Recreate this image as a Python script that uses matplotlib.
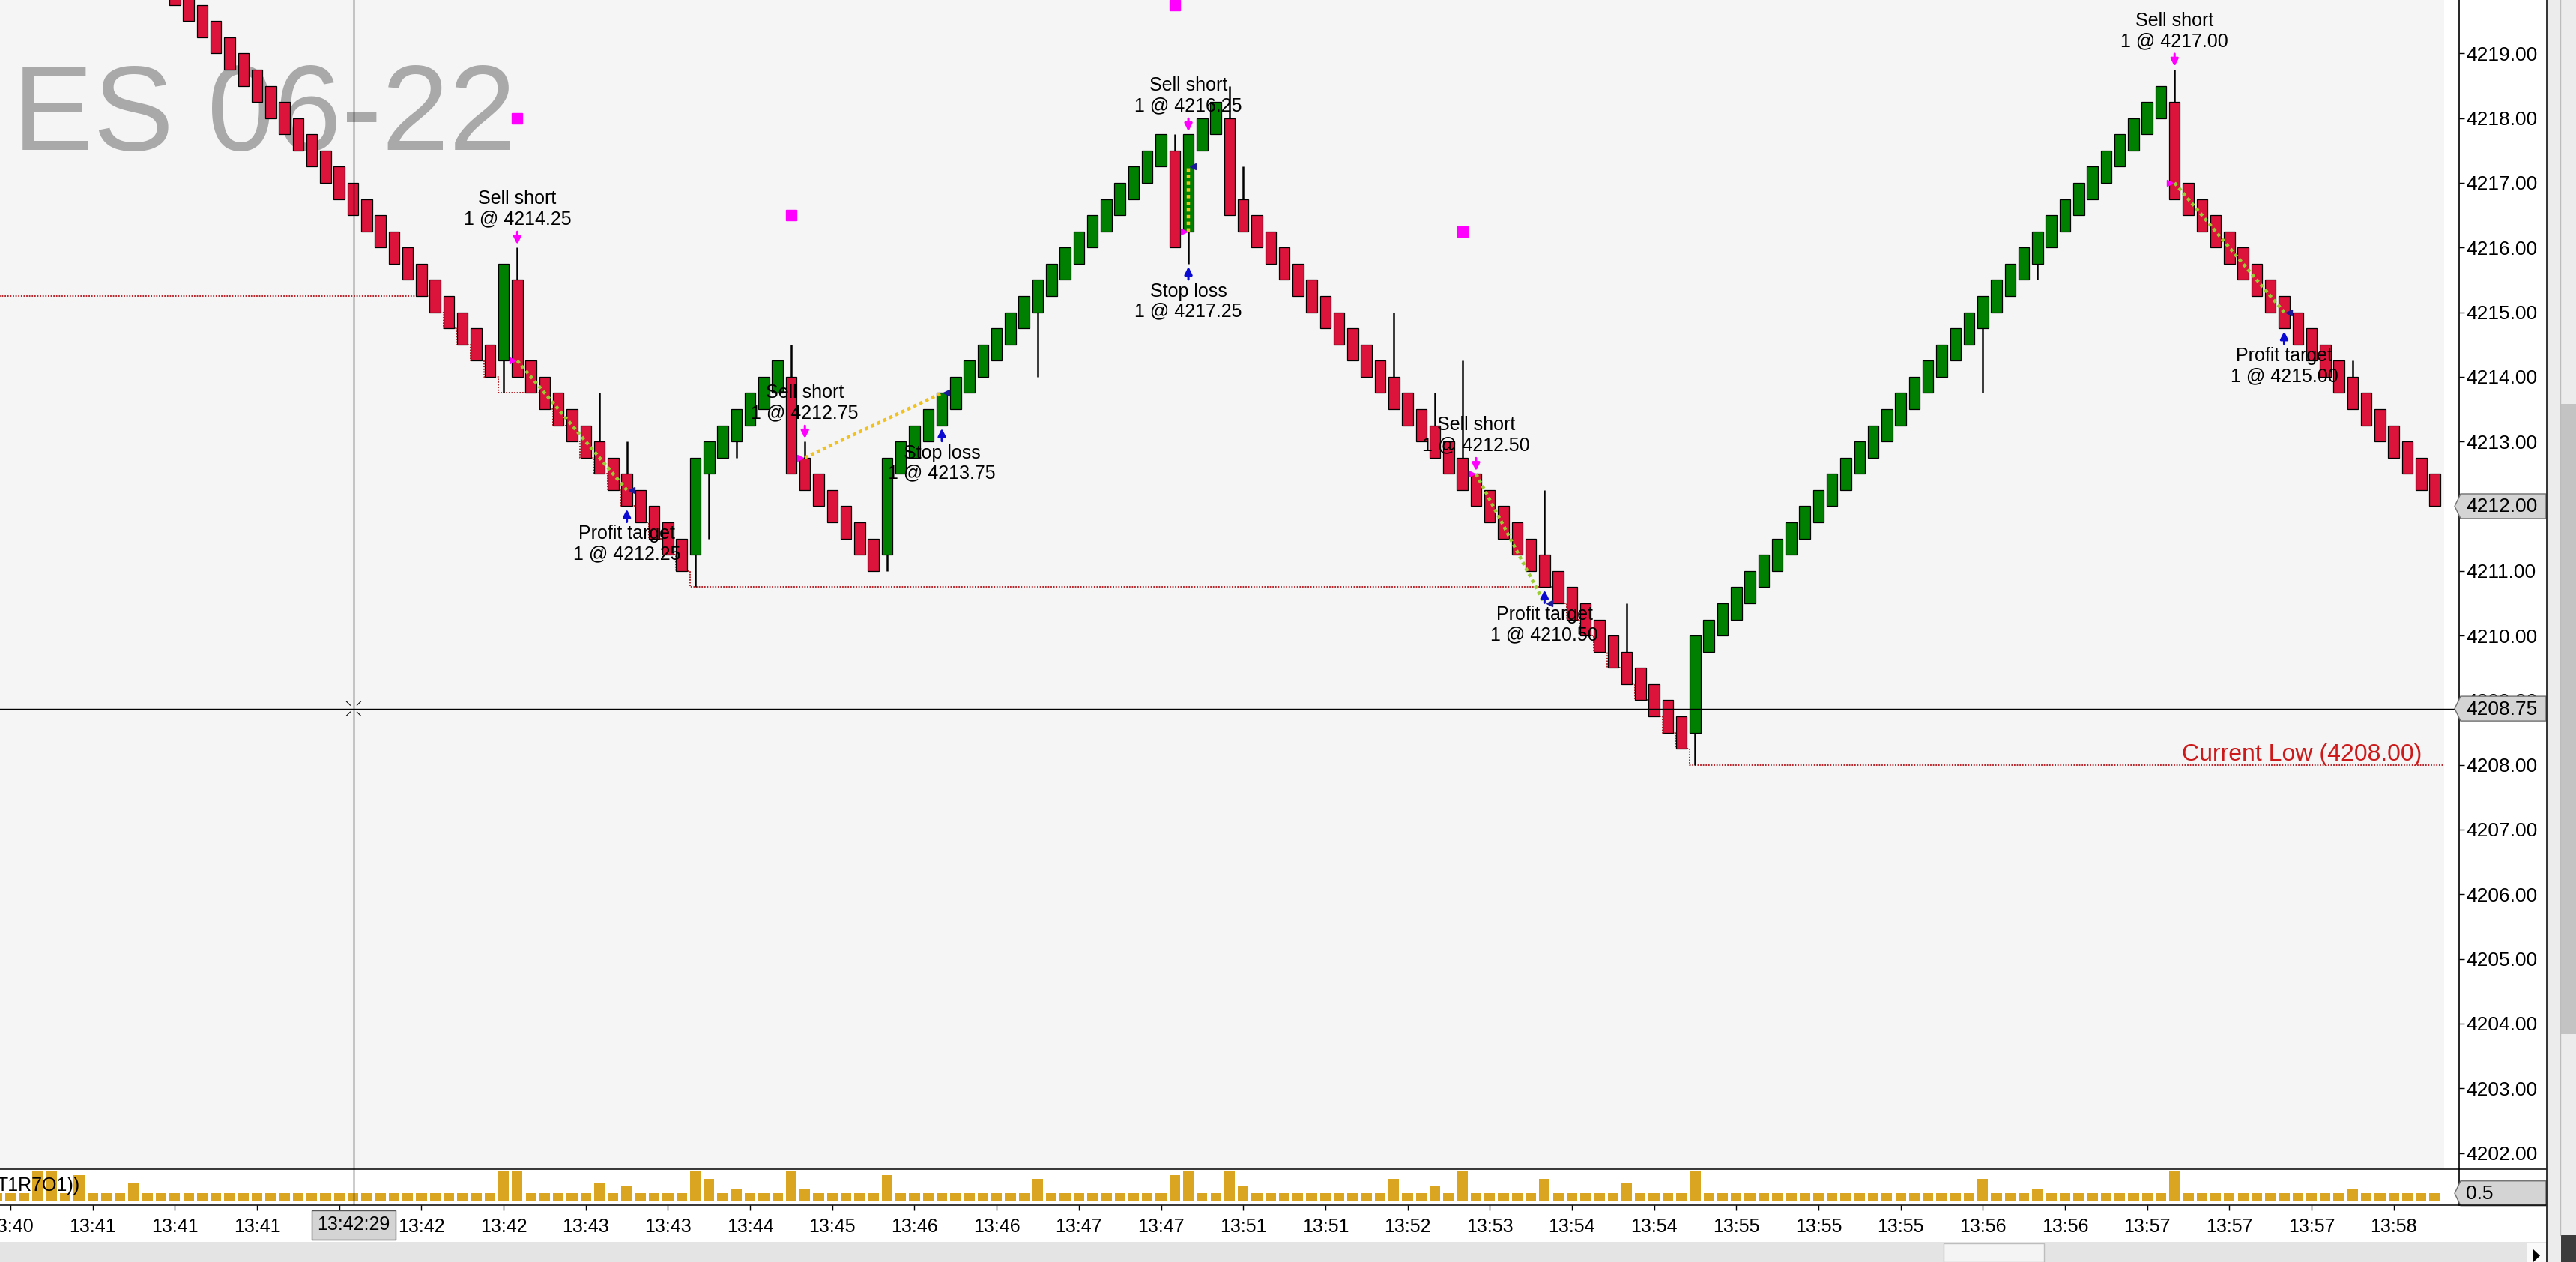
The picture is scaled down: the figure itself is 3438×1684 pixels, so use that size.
"""
ES 06-22 UniRenko (T1R7O1) chart with strategy trades, volume pane and
NinjaTrader-style chrome. Bars are indexed so that bar 0 sits under the
first time tick; bar -1 is the half-visible one at the left edge.
"""
import numpy as np
import matplotlib
matplotlib.use("Agg")
import matplotlib.pyplot as plt
from matplotlib.patches import Polygon, Rectangle

plt.rcParams["font.family"] = ["Liberation Sans", "DejaVu Sans"]

W, H, DPI = 3438, 1684, 100

bars = np.arange(-1, 178)

opens = [
    4223.50, 4223.25, 4223.00, 4222.75, 4222.50, 4222.25, 4222.00, 4221.75, 4221.50, 4221.25,
    4221.00, 4220.75, 4220.50, 4220.25, 4220.00, 4219.75, 4219.50, 4219.25, 4219.00, 4218.75,
    4218.50, 4218.25, 4218.00, 4217.75, 4217.50, 4217.25, 4217.00, 4216.75, 4216.50, 4216.25,
    4216.00, 4215.75, 4215.50, 4215.25, 4215.00, 4214.75, 4214.50, 4214.25, 4215.50, 4214.25,
    4214.00, 4213.75, 4213.50, 4213.25, 4213.00, 4212.75, 4212.50, 4212.25, 4212.00, 4211.75,
    4211.50, 4211.25, 4212.50, 4212.75, 4213.00, 4213.25, 4213.50, 4213.75, 4214.00, 4212.75,
    4212.50, 4212.25, 4212.00, 4211.75, 4211.50, 4211.25, 4212.50, 4212.75, 4213.00, 4213.25,
    4213.50, 4213.75, 4214.00, 4214.25, 4214.50, 4214.75, 4215.00, 4215.25, 4215.50, 4215.75,
    4216.00, 4216.25, 4216.50, 4216.75, 4217.00, 4217.25, 4217.50, 4216.25, 4217.50, 4217.75,
    4218.00, 4216.75, 4216.50, 4216.25, 4216.00, 4215.75, 4215.50, 4215.25, 4215.00, 4214.75,
    4214.50, 4214.25, 4214.00, 4213.75, 4213.50, 4213.25, 4213.00, 4212.75, 4212.50, 4212.25,
    4212.00, 4211.75, 4211.50, 4211.25, 4211.00, 4210.75, 4210.50, 4210.25, 4210.00, 4209.75,
    4209.50, 4209.25, 4209.00, 4208.75, 4208.50, 4209.75, 4210.00, 4210.25, 4210.50, 4210.75,
    4211.00, 4211.25, 4211.50, 4211.75, 4212.00, 4212.25, 4212.50, 4212.75, 4213.00, 4213.25,
    4213.50, 4213.75, 4214.00, 4214.25, 4214.50, 4214.75, 4215.00, 4215.25, 4215.50, 4215.75,
    4216.00, 4216.25, 4216.50, 4216.75, 4217.00, 4217.25, 4217.50, 4217.75, 4218.00, 4218.25,
    4217.00, 4216.75, 4216.50, 4216.25, 4216.00, 4215.75, 4215.50, 4215.25, 4215.00, 4214.75,
    4214.50, 4214.25, 4214.00, 4213.75, 4213.50, 4213.25, 4213.00, 4212.75, 4212.50,
]
closes = [
    4223.00, 4222.75, 4222.50, 4222.25, 4222.00, 4221.75, 4221.50, 4221.25, 4221.00, 4220.75,
    4220.50, 4220.25, 4220.00, 4219.75, 4219.50, 4219.25, 4219.00, 4218.75, 4218.50, 4218.25,
    4218.00, 4217.75, 4217.50, 4217.25, 4217.00, 4216.75, 4216.50, 4216.25, 4216.00, 4215.75,
    4215.50, 4215.25, 4215.00, 4214.75, 4214.50, 4214.25, 4214.00, 4215.75, 4214.00, 4213.75,
    4213.50, 4213.25, 4213.00, 4212.75, 4212.50, 4212.25, 4212.00, 4211.75, 4211.50, 4211.25,
    4211.00, 4212.75, 4213.00, 4213.25, 4213.50, 4213.75, 4214.00, 4214.25, 4212.50, 4212.25,
    4212.00, 4211.75, 4211.50, 4211.25, 4211.00, 4212.75, 4213.00, 4213.25, 4213.50, 4213.75,
    4214.00, 4214.25, 4214.50, 4214.75, 4215.00, 4215.25, 4215.50, 4215.75, 4216.00, 4216.25,
    4216.50, 4216.75, 4217.00, 4217.25, 4217.50, 4217.75, 4216.00, 4217.75, 4218.00, 4218.25,
    4216.50, 4216.25, 4216.00, 4215.75, 4215.50, 4215.25, 4215.00, 4214.75, 4214.50, 4214.25,
    4214.00, 4213.75, 4213.50, 4213.25, 4213.00, 4212.75, 4212.50, 4212.25, 4212.00, 4211.75,
    4211.50, 4211.25, 4211.00, 4210.75, 4210.50, 4210.25, 4210.00, 4209.75, 4209.50, 4209.25,
    4209.00, 4208.75, 4208.50, 4208.25, 4210.00, 4210.25, 4210.50, 4210.75, 4211.00, 4211.25,
    4211.50, 4211.75, 4212.00, 4212.25, 4212.50, 4212.75, 4213.00, 4213.25, 4213.50, 4213.75,
    4214.00, 4214.25, 4214.50, 4214.75, 4215.00, 4215.25, 4215.50, 4215.75, 4216.00, 4216.25,
    4216.50, 4216.75, 4217.00, 4217.25, 4217.50, 4217.75, 4218.00, 4218.25, 4218.50, 4216.75,
    4216.50, 4216.25, 4216.00, 4215.75, 4215.50, 4215.25, 4215.00, 4214.75, 4214.50, 4214.25,
    4214.00, 4213.75, 4213.50, 4213.25, 4213.00, 4212.75, 4212.50, 4212.25, 4212.00,
]

# wicks beyond the body
wick_hi_bars = [37, 43, 45, 57, 58, 85, 89, 90, 101, 104, 106, 112, 118, 158, 171]
wick_hi_vals = [4216.00, 4213.75, 4213.00, 4214.50, 4213.00, 4217.75, 4218.50, 4217.25,
                4215.00, 4213.75, 4214.25, 4212.25, 4210.50, 4218.75, 4214.25]
wick_lo_bars = [36, 50, 51, 53, 64, 75, 86, 123, 144, 148]
wick_lo_vals = [4213.75, 4210.75, 4211.50, 4212.75, 4211.00, 4214.00, 4215.75,
                4208.00, 4213.75, 4215.50]

volume = [
    0.5, 0.5, 0.5, 2.0, 2.0, 0.5, 1.75, 0.5, 0.5, 0.5,
    1.25, 0.5, 0.5, 0.5, 0.5, 0.5, 0.5, 0.5, 0.5, 0.5,
    0.5, 0.5, 0.5, 0.5, 0.5, 0.5, 0.5, 0.5, 0.5, 0.5,
    0.5, 0.5, 0.5, 0.5, 0.5, 0.5, 0.5, 2.0, 2.0, 0.5,
    0.5, 0.5, 0.5, 0.5, 1.25, 0.5, 1.0, 0.5, 0.5, 0.5,
    0.5, 2.0, 1.5, 0.5, 0.75, 0.5, 0.5, 0.5, 2.0, 0.75,
    0.5, 0.5, 0.5, 0.5, 0.5, 1.75, 0.5, 0.5, 0.5, 0.5,
    0.5, 0.5, 0.5, 0.5, 0.5, 0.5, 1.5, 0.5, 0.5, 0.5,
    0.5, 0.5, 0.5, 0.5, 0.5, 0.5, 1.75, 2.0, 0.5, 0.5,
    2.0, 1.0, 0.5, 0.5, 0.5, 0.5, 0.5, 0.5, 0.5, 0.5,
    0.5, 0.5, 1.5, 0.5, 0.5, 1.0, 0.5, 2.0, 0.5, 0.5,
    0.5, 0.5, 0.5, 1.5, 0.5, 0.5, 0.5, 0.5, 0.5, 1.25,
    0.5, 0.5, 0.5, 0.5, 2.0, 0.5, 0.5, 0.5, 0.5, 0.5,
    0.5, 0.5, 0.5, 0.5, 0.5, 0.5, 0.5, 0.5, 0.5, 0.5,
    0.5, 0.5, 0.5, 0.5, 0.5, 1.5, 0.5, 0.5, 0.5, 0.75,
    0.5, 0.5, 0.5, 0.5, 0.5, 0.5, 0.5, 0.5, 0.5, 2.0,
    0.5, 0.5, 0.5, 0.5, 0.5, 0.5, 0.5, 0.5, 0.5, 0.5,
    0.5, 0.5, 0.75, 0.5, 0.5, 0.5, 0.5, 0.5, 0.5,
]
assert len(opens) == len(closes) == len(volume) == len(bars)

# strategy trades (all short)
entry_bars = [37, 58, 86, 107, 158]
entry_prices = [4214.25, 4212.75, 4216.25, 4212.50, 4217.00]
exit_bars = [45, 68, 86, 112, 166]
exit_prices = [4212.25, 4213.75, 4217.25, 4210.50, 4215.00]
exit_names = ["Profit target", "Stop loss", "Stop loss", "Profit target", "Profit target"]

# magenta indicator dots
dot_bars = [37, 57, 85, 106]
dot_prices = [4218.00, 4216.50, 4219.75, 4216.25]

PRIOR_SESSION_LOW = 4215.25

tick_bars = np.arange(0, 175, 6)
time_labels = ["13:40", "13:41", "13:41", "13:41", "13:42", "13:42", "13:42", "13:43",
               "13:43", "13:44", "13:45", "13:46", "13:46", "13:47", "13:47", "13:51",
               "13:51", "13:52", "13:53", "13:54", "13:54", "13:55", "13:55", "13:55",
               "13:56", "13:56", "13:57", "13:57", "13:57", "13:58"]

CROSS_BAR, CROSS_PRICE = 25.05, 4208.87
CROSS_PRICE_LABEL, CROSS_TIME_LABEL = "4208.75", "13:42:29"

RED = "#dc143c"
GREEN = "#008000"
GOLD = "#daa520"
MAGENTA = "#ff00ff"
BLUE = "#0a0ad2"
BG = "#f5f5f5"

# ---- layout (pixels, top-left origin) ----
BAR_PX, X0_PX = 18.28, 14.0
AX_RIGHT = 3282
PRICE_TOP, PRICE_BOT = 4219.827, 4201.751
PRICE_PANE_H, VOL_TOP, VOL_BOT = 1560, 1560, 1608


def fig_rect(x0, y0, x1, y1):
    return [x0 / W, 1 - y1 / H, (x1 - x0) / W, (y1 - y0) / H]


fig = plt.figure(figsize=(W / DPI, H / DPI), dpi=DPI, facecolor="white")
ax = fig.add_axes(fig_rect(0, 0, AX_RIGHT, PRICE_PANE_H), facecolor=BG)
axv = fig.add_axes(fig_rect(0, VOL_TOP, AX_RIGHT, VOL_BOT), facecolor="white", sharex=ax)

xl = -X0_PX / BAR_PX
xr = (AX_RIGHT - X0_PX) / BAR_PX
ax.set_xlim(xl, xr)
ax.set_ylim(PRICE_BOT, PRICE_TOP)
ppx = (PRICE_TOP - PRICE_BOT) / PRICE_PANE_H  # price per pixel

# white margin between the last bar and the price scale
ax.axvspan((3262 - X0_PX) / BAR_PX, xr + 1, color="white", zorder=0.5, lw=0)

op = np.array(opens)
cl = np.array(closes)
hi = np.maximum(op, cl)
lo = np.minimum(op, cl)
for b, v in zip(wick_hi_bars, wick_hi_vals):
    hi[b + 1] = v
for b, v in zip(wick_lo_bars, wick_lo_vals):
    lo[b + 1] = v

# watermark
ax.text(17 / AX_RIGHT, 1 - 200 / PRICE_PANE_H, "ES 06-22", transform=ax.transAxes,
        fontsize=116, color="#a9a9a9", ha="left", va="baseline", zorder=1)

# session low (dotted red step line)
sess_low = np.minimum.accumulate(np.minimum(lo, PRIOR_SESSION_LOW))
x_end = (3260 - X0_PX) / BAR_PX
ax.step(np.append(bars - 0.4, x_end), np.append(sess_low, sess_low[-1]), where="post",
        color="#b4141a", lw=1.3, ls=(0, (1, 1)), zorder=1.6)
ax.text((3232 - X0_PX) / BAR_PX, sess_low[-1] + 6 * ppx,
        f"Current Low ({sess_low[-1]:.2f})", color="#cc1a1a", fontsize=23,
        ha="right", va="baseline", zorder=6)

# candles
ax.vlines(bars, lo, hi, color="black", lw=1.8, zorder=2)
colors = [GREEN if c > o else RED for o, c in zip(op, cl)]
ax.bar(bars, cl - op, bottom=op, width=0.79, color=colors, edgecolor="black",
       linewidth=0.9, zorder=3)

# indicator dots
ax.plot(dot_bars, dot_prices, "s", color=MAGENTA, markersize=10, zorder=4)

ARROW = "-|>,head_length=0.4,head_width=0.2"

# trades
for eb, ep, xb, xp, name in zip(entry_bars, entry_prices, exit_bars, exit_prices, exit_names):
    line_col = "#9acd32" if xp < ep else "#f2c21b"
    ax.plot([eb, xb], [ep, xp], color=line_col, lw=3.2, ls=(0, (1, 1)), zorder=5)
    ax.plot(eb - 0.34, ep, ">", color=MAGENTA, markersize=6, zorder=5)
    ax.plot(xb + 0.34, xp, "<", color="#1a1a9a", markersize=6, zorder=5)

    top = hi[eb + 1]
    ax.annotate("", xy=(eb, top + 4 * ppx), xytext=(eb, top + 21 * ppx),
                arrowprops=dict(arrowstyle=ARROW, color=MAGENTA, lw=2.2, shrinkA=0,
                                shrinkB=0, mutation_scale=15), zorder=6)
    ax.text(eb, top + 26 * ppx, f"Sell short\n1 @ {ep:.2f}", ha="center", va="bottom",
            fontsize=18, linespacing=1.15, zorder=7)

    bot = lo[xb + 1]
    ax.annotate("", xy=(xb, bot - 4 * ppx), xytext=(xb, bot - 21 * ppx),
                arrowprops=dict(arrowstyle=ARROW, color=BLUE, lw=2.2, shrinkA=0,
                                shrinkB=0, mutation_scale=15), zorder=6)
    ax.text(xb, bot - 25 * ppx, f"{name}\n1 @ {xp:.2f}", ha="center", va="top",
            fontsize=18, linespacing=1.15, zorder=7)

# crosshair
ax.axvline(CROSS_BAR, color="black", lw=1.0, zorder=8)
axv.axvline(CROSS_BAR, color="black", lw=1.0, zorder=8)
ax.axhline(CROSS_PRICE, color="black", lw=1.0, zorder=8)

# price scale
ax.yaxis.tick_right()
ax.set_yticks(np.arange(4202, 4220))
ax.set_yticklabels([f"{v:.2f}" for v in np.arange(4202, 4220)])
ax.tick_params(axis="y", which="both", right=True, left=False, labelright=True,
               labelleft=False, labelsize=19, length=5, width=1, pad=2, direction="out")
ax.tick_params(axis="x", bottom=False, labelbottom=False)
for side in ["top", "left", "bottom"]:
    ax.spines[side].set_visible(False)
ax.spines["right"].set_linewidth(1.2)

# volume pane
axv.bar(bars, volume, width=0.78, color=GOLD, lw=0, zorder=2)
axv.set_ylim(-0.308, 2.154)
axv.set_yticks([])
axv.set_xticks(tick_bars)
axv.set_xticklabels(time_labels)
axv.tick_params(axis="x", labelsize=18, length=5, width=1, pad=7, direction="out")
for side in ["top", "left", "bottom"]:
    axv.spines[side].set_visible(False)
axv.spines["right"].set_linewidth(1.2)

# ---- chrome overlay in pixel coordinates ----
ov = fig.add_axes([0, 0, 1, 1], zorder=10)
ov.set_xlim(0, W)
ov.set_ylim(H, 0)
ov.axis("off")
ov.patch.set_alpha(0)


def to_px(axes, x, y):
    dx, dy = axes.transData.transform((x, y))
    return dx, H - dy


ov.plot([0, 3398], [VOL_TOP, VOL_TOP], color="black", lw=1.1)
ov.plot([0, 3398], [VOL_BOT, VOL_BOT], color="black", lw=1.1)
ov.text(-4, 1582, "T1R7O1))", fontsize=18, ha="left", va="center")

ov.add_patch(Rectangle((0, 1657), 3399, 27, facecolor="#e4e4e4", lw=0))
ov.add_patch(Rectangle((2594, 1659), 134, 25, facecolor="#f4f4f4", edgecolor="#bdbdbd", lw=1))
ov.add_patch(Rectangle((3372, 1658), 26, 26, facecolor="#fafafa", lw=0))
ov.add_patch(Polygon([(3381, 1667), (3390, 1675.5), (3381, 1684)], closed=True,
                     facecolor="black", lw=0))
ov.add_patch(Rectangle((3400, 0), 38, H, facecolor="#ececec", lw=0))
ov.add_patch(Rectangle((3418, 539), 20, 841, facecolor="#c3c3c3", lw=0))
ov.add_patch(Rectangle((3418, 1648), 20, 36, facecolor="#3c3c3c", lw=0))
ov.plot([3417, 3417], [0, 1648], color="#bcbcbc", lw=1.0)
ov.plot([3399, 3399], [0, H], color="#222222", lw=1.3)


def price_box(yc, label):
    pts = [(3276, yc), (3284, yc - 16.5), (3398, yc - 16.5), (3398, yc + 16.5), (3284, yc + 16.5)]
    ov.add_patch(Polygon(pts, closed=True, facecolor="#d4d4d4", edgecolor="#707070", lw=1))
    ov.text(3291, yc + 1, label, fontsize=19, ha="left", va="center")


price_box(to_px(ax, 0, cl[-1])[1], f"{cl[-1]:.2f}")
price_box(to_px(ax, 0, CROSS_PRICE)[1], CROSS_PRICE_LABEL)
price_box(to_px(axv, 0, volume[-1])[1], f"{volume[-1]:g}")

cx, cy = to_px(ax, CROSS_BAR, CROSS_PRICE)
for sx, sy in [(-1, -1), (1, -1), (-1, 1), (1, 1)]:
    ov.plot([cx + sx * 4.5, cx + sx * 9.5], [cy + sy * 4.5, cy + sy * 9.5],
            color="black", lw=0.8)
ov.text(cx, 1634, CROSS_TIME_LABEL, fontsize=18, ha="center", va="center",
        bbox=dict(boxstyle="square,pad=0.3", facecolor="#d4d4d4", edgecolor="#555555", lw=1))

fig.savefig("out.png", dpi=DPI, facecolor="white")
